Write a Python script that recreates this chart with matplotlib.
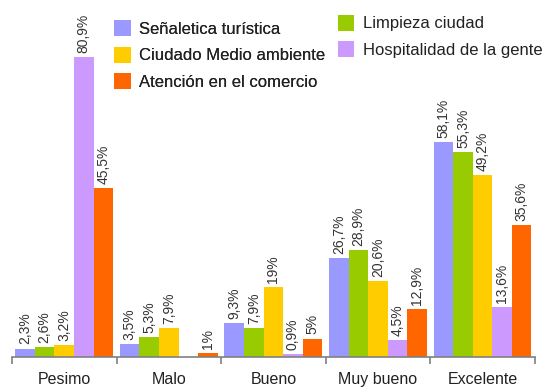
import numpy as np
import matplotlib
matplotlib.use("Agg")
import matplotlib.pyplot as plt

plt.rcParams['font.family'] = ['Liberation Sans', 'DejaVu Sans']

categorias = ["Pesimo", "Malo", "Bueno", "Muy bueno", "Excelente"]
series = ["Señaletica turística", "Limpieza ciudad", "Ciudado Medio ambiente",
          "Hospitalidad de la gente", "Atención en el comercio"]

senaletica = [2.3, 3.5, 9.3, 26.7, 58.1]
limpieza = [2.6, 5.3, 7.9, 28.9, 55.3]
medio_ambiente = [3.2, 7.9, 19, 20.6, 49.2]
hospitalidad = [80.9, np.nan, 0.9, 4.5, 13.6]
atencion = [45.5, 1, 5, 12.9, 35.6]

colores = ["#9999ff", "#99cc00", "#ffcc00", "#cc99ff", "#ff6600"]
valores = [senaletica, limpieza, medio_ambiente, hospitalidad, atencion]


def etiqueta(v):
    s = ("%.1f" % v).rstrip("0").rstrip(".")
    return s.replace(".", ",") + "%"


fig = plt.figure(figsize=(5.43, 3.89), dpi=100)
ax = fig.add_axes([0.022, 0.082, 0.963, 0.918])

ancho = 0.187
x = np.arange(len(categorias))
handles = []
for i, (nombre, vals, col) in enumerate(zip(series, valores, colores)):
    pos = x - 0.5 + 0.032 + ancho * (i + 0.5)
    alturas = np.nan_to_num(np.array(vals, dtype=float))
    b = ax.bar(pos, alturas, width=ancho, color=col, label=nombre, linewidth=0)
    handles.append(b)
    for p, v in zip(pos, vals):
        if np.isnan(v):
            continue
        ax.text(p, v + 1.1, etiqueta(v), rotation=90, ha="center", va="bottom",
                fontsize=10, color="#333333")

ax.set_xlim(-0.5, len(categorias) - 0.5)
ax.set_ylim(0, 96.3)
for s in ["top", "right", "left"]:
    ax.spines[s].set_visible(False)
ax.spines["bottom"].set_color("#808080")
ax.spines["bottom"].set_linewidth(1.2)
ax.set_yticks([])
ax.set_xticks(np.arange(len(categorias) + 1) - 0.5)
ax.set_xticklabels([])
ax.tick_params(axis="x", length=5, color="#808080", width=1.2)
for xi, cat in zip(x, categorias):
    ax.text(xi, -4.0, cat, ha="center", va="top", fontsize=11.5, color="#222222")

# leyenda en dos columnas separadas
ley_opts = dict(frameon=False, fontsize=12, handlelength=1.0, handleheight=1.1,
                handletextpad=0.5, labelspacing=0.6, labelcolor="#222222",
                loc="upper left", borderpad=0, borderaxespad=0)
izq = fig.legend(handles=[handles[0], handles[2], handles[4]],
                 labels=[series[0], series[2], series[4]],
                 bbox_to_anchor=(0.21, 0.949), **ley_opts)
fig.legend(handles=[handles[1], handles[3]], labels=[series[1], series[3]],
           bbox_to_anchor=(0.622, 0.962), **ley_opts)
fig.add_artist(izq)

fig.savefig("out.png", dpi=100)
